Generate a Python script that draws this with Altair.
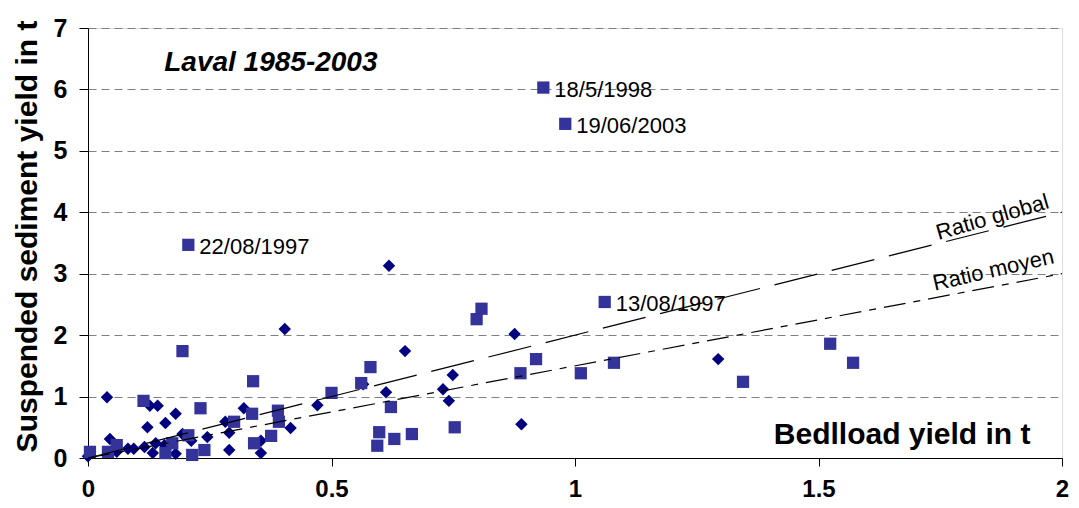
import altair as alt
import pandas as pd

# Series 1 (diamonds)
diamond_x = [0.0, 0.039, 0.045, 0.059, 0.082, 0.094, 0.116, 0.122, 0.127, 0.143,
             0.133, 0.139, 0.157, 0.159, 0.180, 0.180, 0.194, 0.212, 0.245, 0.282,
             0.290, 0.290, 0.320, 0.355, 0.355, 0.404, 0.416, 0.471, 0.618, 0.651,
             0.612, 0.729, 0.749, 0.741, 0.876, 0.890, 1.294, 0.565]
diamond_y = [0.03, 0.99, 0.31, 0.10, 0.15, 0.15, 0.18, 0.50, 0.85, 0.85,
             0.08, 0.24, 0.21, 0.57, 0.72, 0.07, 0.39, 0.28, 0.34, 0.59,
             0.41, 0.13, 0.81, 0.28, 0.08, 2.10, 0.49, 0.86, 3.13, 1.74,
             1.07, 1.12, 1.35, 0.93, 2.02, 0.55, 1.61, 1.20]

# Series 2 (squares)
square_x = [0.004, 0.041, 0.059, 0.114, 0.194, 0.206, 0.231, 0.173, 0.159, 0.206,
            0.214, 0.239, 0.300, 0.337, 0.339, 0.341, 0.376, 0.390, 0.392, 0.500,
            0.561, 0.580, 0.622, 0.598, 0.594, 0.629, 0.665, 0.753, 0.798, 0.808,
            0.888, 0.920, 1.012, 1.080, 1.061, 1.345, 1.524, 1.571, 0.935, 0.980]
square_y = [0.10, 0.10, 0.21, 0.93, 1.74, 3.47, 0.81, 0.24, 0.08, 0.37,
            0.05, 0.13, 0.59, 0.72, 1.25, 0.24, 0.36, 0.77, 0.59, 1.06,
            1.22, 1.48, 0.83, 0.42, 0.20, 0.31, 0.39, 0.50, 2.26, 2.43,
            1.38, 1.61, 1.38, 1.55, 2.54, 1.24, 1.86, 1.55, 6.03, 5.44]

# Labelled events
event_x = [0.935, 0.980, 0.206, 1.061]
event_y = [6.03, 5.44, 3.47, 2.54]
event_label = ["18/5/1998", "19/06/2003", "22/08/1997", "13/08/1997"]

# Ratio lines (suspended / bedload)
ratio_names = ["Ratio global", "Ratio moyen"]
ratio_slopes = [2.0, 1.5]
line_x = [0.0, 2.0]

x_ticks = [0, 0.5, 1, 1.5, 2]
y_ticks = [0, 1, 2, 3, 4, 5, 6, 7]

FONT = "Liberation Sans"

df_d = pd.DataFrame({"x": diamond_x, "y": diamond_y})
df_s = pd.DataFrame({"x": square_x, "y": square_y})
df_e = pd.DataFrame({"x": event_x, "y": event_y, "label": event_label})

xs = alt.Scale(domain=[0, 2], nice=False, zero=False)
ys = alt.Scale(domain=[0, 7], nice=False, zero=False)

x_axis = alt.Axis(values=x_ticks, format="~g", grid=False, domainColor="black",
                  tickColor="black", tickSize=8, labelFontSize=24, labelFont=FONT,
                  labelFontWeight="bold", labelColor="black", labelPadding=11,
                  labelFlush=False, labelOverlap=False,
                  title="Bedlload yield in t", titleFont=FONT, titleFontSize=30,
                  titleFontWeight="bold", titleColor="black", titleX=942, titleY=-15,
                  titleAlign="right", titleBaseline="alphabetic", titleAngle=0)
y_axis = alt.Axis(values=y_ticks, format="d", grid=True, gridColor="#808080",
                  gridDash=[8, 5], gridWidth=1, domainColor="black", tickColor="black",
                  tickSize=9, labelFontSize=25, labelFont=FONT, labelFontWeight="bold",
                  labelColor="black", labelPadding=12, labelFlush=False,
                  labelOverlap=False,
                  title="Suspended sediment yield in t", titleFont=FONT, titleFontSize=30,
                  titleFontWeight="bold", titleColor="black", titleX=-52, titleY=208,
                  titleAngle=270, titleAlign="center", titleBaseline="alphabetic")

diam = alt.Chart(df_d).mark_point(shape="diamond", filled=True, size=155,
                                  color="#000080", opacity=1).encode(
    x=alt.X("x:Q", scale=xs, axis=x_axis),
    y=alt.Y("y:Q", scale=ys, axis=y_axis),
)
squ = alt.Chart(df_s).mark_point(shape="square", filled=True, size=150,
                                 color="#333399", opacity=1).encode(
    x=alt.X("x:Q", scale=xs), y=alt.Y("y:Q", scale=ys))

lines = []
dashes = [[44, 15], [22, 8, 7, 8]]
for name, s, d in zip(ratio_names, ratio_slopes, dashes):
    dfl = pd.DataFrame({"x": line_x, "y": [s * v for v in line_x]})
    lines.append(alt.Chart(dfl).mark_line(color="black", strokeWidth=1.2,
                                          strokeDash=d).encode(
        x=alt.X("x:Q", scale=xs), y=alt.Y("y:Q", scale=ys)))

ev = alt.Chart(df_e).mark_text(align="left", baseline="middle", dx=11, dy=2,
                               font=FONT, fontSize=22, color="black").encode(
    x=alt.X("x:Q", scale=xs), y=alt.Y("y:Q", scale=ys), text="label:N")

rl = pd.DataFrame({"x": [1.857, 1.859], "y": [3.92, 3.06], "t": ratio_names,
                   "a": [344, 347]})
rtxt = alt.Chart(rl).mark_text(align="center", baseline="middle", font=FONT,
                               fontSize=22, color="black").encode(
    x=alt.X("x:Q", scale=xs), y=alt.Y("y:Q", scale=ys), text="t:N",
    angle=alt.Angle("a:Q", scale=None))

ttl = alt.Chart(pd.DataFrame({"x": [0.3755], "y": [6.43], "t": ["Laval 1985-2003"]})).mark_text(
    align="center", baseline="middle", font=FONT, fontSize=28, fontWeight="bold",
    fontStyle="italic", color="black").encode(
    x=alt.X("x:Q", scale=xs), y=alt.Y("y:Q", scale=ys), text="t:N")

chart = alt.layer(diam, squ, *lines, ev, rtxt, ttl).properties(
    width=974, height=430, autosize=alt.AutoSizeParams(type="none"),
    padding={"left": 80, "top": 20, "right": 9, "bottom": 42},
).configure_view(stroke="#808080", strokeWidth=1).configure(background="white")

chart.save("out.html", embed_options={"renderer": "svg", "actions": False})
